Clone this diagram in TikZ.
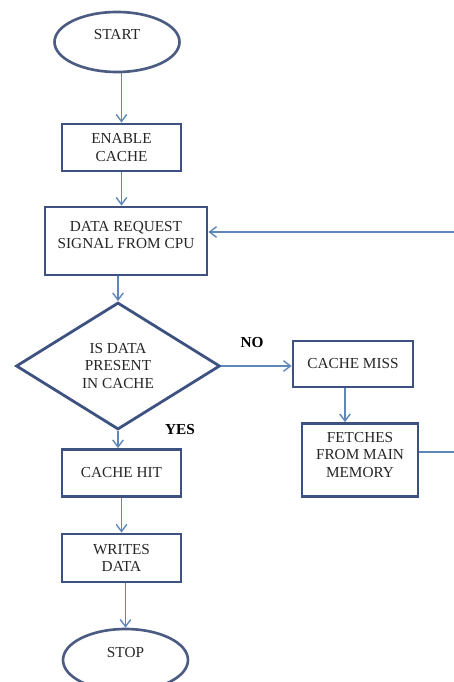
\documentclass[tikz,border=0pt]{standalone}
\usepackage{fontspec}
\setmainfont{Liberation Serif}
\usetikzlibrary{arrows.meta,shapes.geometric,positioning}
\definecolor{edgeblue}{RGB}{62,82,130}
\definecolor{arrowblue}{RGB}{95,135,185}

\begin{document}
\begin{tikzpicture}[x=0.02cm,y=-0.02cm,
  every node/.style={font=\fontsize{8.7}{10}\selectfont,align=center,inner sep=0pt,text=black!85},
  term/.style={ellipse,draw=edgeblue!80!gray,line width=1.5pt,minimum width=2.5cm,minimum height=1.2cm,text height=6pt,text depth=9pt},
  proc/.style={rectangle,draw=edgeblue,line width=1.6pt},
  decide/.style={diamond,draw=edgeblue,line width=1.6pt,minimum width=4.08cm,minimum height=2.54cm},
  arr/.style={draw=arrowblue,line width=0.8pt,-{Straight Barb[length=4pt,width=6pt]}},
  tag/.style={font=\fontsize{8.7}{10}\selectfont\bfseries,text=black}]
\useasboundingbox (0,0) rectangle (453,682);
% shapes
\node[term] (start) at (117,42) {START};
\node[proc,minimum width=2.38cm,minimum height=0.94cm] (enable) at (121.5,147.5) {ENABLE\\CACHE};
\node[proc,minimum width=3.24cm,minimum height=1.36cm,text depth=7pt] (data) at (126,241) {DATA REQUEST\\SIGNAL FROM CPU};
\node[decide] (check) at (118,366) {IS DATA\\PRESENT\\IN CACHE};
\node[proc,minimum width=2.4cm,minimum height=0.92cm] (miss) at (353,364) {CACHE MISS};
\node[proc,minimum width=2.32cm,minimum height=1.46cm,text depth=6pt] (fetch) at (360,460) {FETCHES\\FROM MAIN\\MEMORY};
\node[proc,minimum width=2.38cm,minimum height=0.94cm] (hit) at (121.5,473) {CACHE HIT};
\node[proc,minimum width=2.38cm,minimum height=0.96cm] (writes) at (121.5,558) {WRITES\\DATA};
\node[term,minimum height=1.24cm] (stop) at (125.5,660) {STOP};
% branch labels
\node[tag] (no) at (252,343) {NO};
\node[tag] (yes) at (180,430) {YES};
% connectors
\coordinate (back) at (470,452);
\draw[arr] (start.south -| enable.north) -- (enable.north);
\draw[arr] (enable) -- (enable |- data.north);
\draw[arr] (data.south -| check.north) -- (check.north);
\draw[arr] (check.east) -- (check.east -| miss.west);
\draw[arr] ([xshift=-0.16cm]miss.south) -- ([xshift=-0.16cm]miss.south |- fetch.north);
\draw[arr] ([yshift=0.16cm]fetch.east) -- ([yshift=0.16cm]fetch.east -| back) |- ([yshift=0.18cm]data.east);
\draw[arr] (check.south) -- (check.south |- hit.north);
\draw[arr] (hit) -- (writes);
\draw[arr] (writes.south -| stop.north) -- (stop.north);
\end{tikzpicture}
\end{document}
